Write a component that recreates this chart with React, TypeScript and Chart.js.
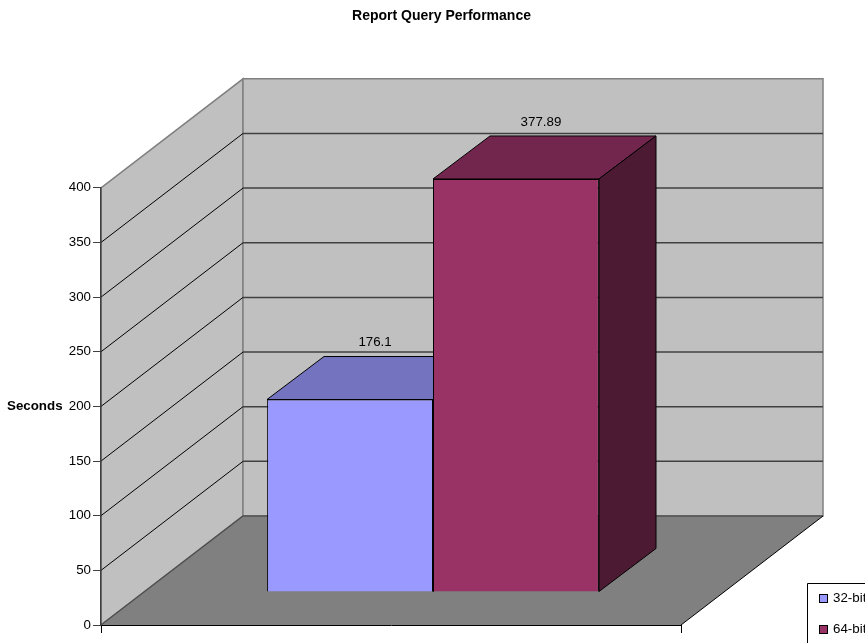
import React, { useEffect, useRef } from "react";
import { Chart, registerables } from "chart.js";

Chart.register(...registerables);

const categories = [""];
const seriesNames = ["32-bit", "64-bit"];
const values32 = [176.1];
const values64 = [377.89];
const yTicks = { min: 0, max: 400, step: 50 };
const chartTitle = "Report Query Performance";
const yTitle = "Seconds";

const FONT = '"Liberation Sans", Arial, sans-serif';
const SIZE = 13.33;
const WALL = { dx: 142, dy: -109 };
const BAR_FRONT = { dx: 42, dy: -33 };
const BAR_DEPTH = { dx: 57, dy: -43 };
const palette = [
  { front: "#9999FF", top: "#7373BF", side: "#4D4D80" },
  { front: "#993366", top: "#73264D", side: "#4D1A33" },
];

function poly(ctx: CanvasRenderingContext2D, pts: number[][], fill: string | null, stroke: string | null, lw = 1) {
  ctx.beginPath();
  pts.forEach(([x, y], i) => (i ? ctx.lineTo(x, y) : ctx.moveTo(x, y)));
  ctx.closePath();
  if (fill) {
    ctx.fillStyle = fill;
    ctx.fill();
  }
  if (stroke) {
    ctx.strokeStyle = stroke;
    ctx.lineWidth = lw;
    ctx.stroke();
  }
}

const scenePlugin = {
  id: "scene3d",
  beforeDraw(chart: any) {
    const { ctx, chartArea: a, scales } = chart;
    const y = scales.y;
    ctx.save();
    const bx = a.left + WALL.dx;
    const brx = a.right + WALL.dx;
    const t = a.top + WALL.dy;
    const b = a.bottom + WALL.dy;
    poly(ctx, [[a.left, a.bottom], [bx, b], [bx, t], [a.left, a.top]], "#C0C0C0", "#808080", 1.5);
    poly(ctx, [[bx, b], [brx, b], [brx, t], [bx, t]], "#C0C0C0", "#808080", 1.5);
    poly(ctx, [[a.left, a.bottom], [a.right, a.bottom], [brx, b], [bx, b]], "#808080", null);
    ctx.lineWidth = 1.5;
    ctx.strokeStyle = "#505050";
    ctx.beginPath();
    ctx.moveTo(a.left, a.bottom);
    ctx.lineTo(bx, b);
    ctx.lineTo(brx, b);
    ctx.stroke();
    ctx.lineWidth = 1;
    ctx.strokeStyle = "#000000";
    ctx.beginPath();
    ctx.moveTo(a.right, a.bottom);
    ctx.lineTo(brx, b);
    ctx.stroke();
    y.ticks.forEach((tk: any) => {
      if (tk.value === yTicks.min) return;
      const py = y.getPixelForValue(tk.value);
      const qy = py + WALL.dy;
      if (tk.value !== yTicks.max) {
        ctx.lineWidth = 1;
        ctx.strokeStyle = "#000000";
        ctx.beginPath();
        ctx.moveTo(a.left, py);
        ctx.lineTo(bx, qy);
        ctx.stroke();
        ctx.lineWidth = 1.5;
        ctx.strokeStyle = "#404040";
        ctx.beginPath();
        ctx.moveTo(bx, qy);
        ctx.lineTo(brx, qy);
        ctx.stroke();
      }
    });
    ctx.restore();
  },
  beforeDatasetDraw() {
    return false;
  },
  afterDatasetsDraw(chart: any) {
    const { ctx } = chart;
    chart.data.datasets.forEach((_: any, i: number) => {
      const meta = chart.getDatasetMeta(i);
      const c = palette[i];
      ctx.save();
      ctx.translate(BAR_FRONT.dx, BAR_FRONT.dy);
      meta.data.forEach((el: any) => {
        const { x, y, base, width } = el.getProps(["x", "y", "base", "width"], true);
        const l = Math.round(x - width / 2);
        const r = Math.round(x + width / 2);
        const d = BAR_DEPTH;
        poly(ctx, [[l, y], [r, y], [r + d.dx, y + d.dy], [l + d.dx, y + d.dy]], c.top, "#000000");
        poly(ctx, [[r, y], [r + d.dx, y + d.dy], [r + d.dx, base + d.dy], [r, base]], c.side, "#000000");
      });
      meta.controller.draw();
      ctx.restore();
    });
    ctx.save();
    ctx.font = `${SIZE}px ${FONT}`;
    ctx.fillStyle = "#000000";
    ctx.textBaseline = "middle";
    ctx.textAlign = "center";
    chart.data.datasets.forEach((ds: any, i: number) => {
      const el = chart.getDatasetMeta(i).data[0];
      const { x, y } = el.getProps(["x", "y"], true);
      ctx.fillText(String(ds.data[0]), x + BAR_FRONT.dx + 25, y + BAR_FRONT.dy + BAR_DEPTH.dy - 14);
    });
    // horizontal value-axis caption
    ctx.font = `bold ${SIZE}px ${FONT}`;
    ctx.textAlign = "left";
    ctx.fillText(yTitle, 7, 406);
    // legend box
    ctx.strokeStyle = "#000000";
    ctx.fillStyle = "#FFFFFF";
    ctx.lineWidth = 1;
    ctx.beginPath();
    ctx.rect(807.5, 583.5, 120, 100);
    ctx.fill();
    ctx.stroke();
    ctx.font = `${SIZE}px ${FONT}`;
    chart.data.datasets.forEach((ds: any, i: number) => {
      const cy = 598.5 + i * 31;
      ctx.fillStyle = palette[i].front;
      ctx.fillRect(819.5, cy - 4, 8, 8);
      ctx.strokeStyle = "#000000";
      ctx.strokeRect(819.5, cy - 4, 8, 8);
      ctx.fillStyle = "#000000";
      ctx.fillText(ds.label, 833, cy);
    });
    ctx.restore();
  },
};

export default function App() {
  const ref = useRef<HTMLCanvasElement>(null);
  useEffect(() => {
    const chart = new Chart(ref.current!, {
      type: "bar",
      data: {
        labels: categories,
        datasets: [
          { label: seriesNames[0], data: values32, backgroundColor: palette[0].front, borderColor: "#000000", borderWidth: 1, clip: false, categoryPercentage: 0.572, barPercentage: 1 },
          { label: seriesNames[1], data: values64, backgroundColor: palette[1].front, borderColor: "#000000", borderWidth: 1, clip: false, categoryPercentage: 0.572, barPercentage: 1 },
        ] as any,
      },
      options: {
        responsive: false,
        animation: false,
        devicePixelRatio: 1,
        layout: { padding: { left: 18, top: 0, right: 0, bottom: 0 } },
        plugins: {
          legend: { display: false },
          tooltip: { enabled: false },
          title: {
            display: true,
            text: chartTitle,
            color: "#000000",
            font: { family: FONT, size: 14, weight: "bold", lineHeight: 1.2 },
            padding: { top: 8, bottom: 163 },
          },
        },
        scales: {
          x: {
            grid: { drawOnChartArea: false, drawTicks: true, tickLength: 8, color: "#000000" },
            border: { color: "#000000" },
            ticks: { display: false },
            afterFit: (s: any) => { s.height = 18; },
          },
          y: {
            min: yTicks.min,
            max: yTicks.max,
            grid: { drawOnChartArea: false, tickLength: 8, color: "#404040" },
            border: { color: "#404040", width: 1.5 },
            ticks: { stepSize: yTicks.step, color: "#000000", padding: 2, font: { family: FONT, size: SIZE } },
            afterFit: (s: any) => { s.width = 83; },
          },
          rightGap: {
            position: "right",
            display: true,
            grid: { display: false },
            border: { display: false },
            ticks: { display: false },
            afterFit: (s: any) => { s.width = 184; },
          },
        },
      } as any,
      plugins: [scenePlugin],
    });
    return () => chart.destroy();
  }, []);
  return (
    <canvas
      ref={ref}
      width={865}
      height={643}
      style={{ position: "fixed", left: 0, top: 0, width: 865, height: 643, display: "block" }}
    />
  );
}
